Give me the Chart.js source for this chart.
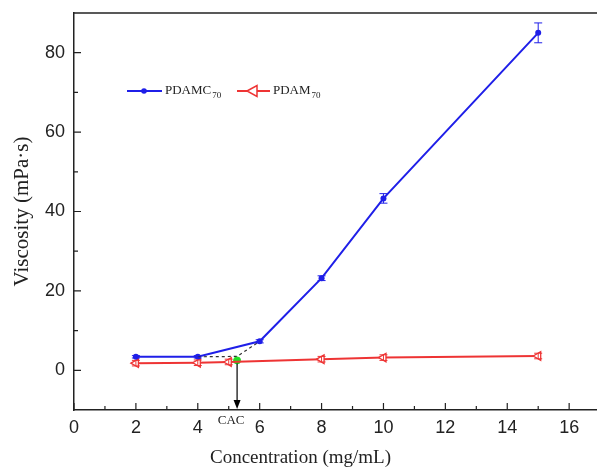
<!DOCTYPE html>
<html>
<head>
<meta charset="utf-8">
<script src="https://cdn.jsdelivr.net/npm/chart.js@4.4.1/dist/chart.umd.min.js"></script>
<style>
  body { margin: 0; background: #fff; }
  #wrap { width: 597px; height: 470px; }
</style>
</head>
<body>
<div id="wrap"><canvas id="viscChart" width="597" height="470"></canvas></div>
<script>
// concentration (mg/mL) and viscosity (mPa·s)
const pdamcX = [2, 4, 6, 8, 10, 15];
const pdamcY = [3.4, 3.4, 7.3, 23.2, 43.3, 85.0];
const pdamcErr = [0.3, 0.3, 0.4, 0.6, 1.2, 2.5];

const pdamX = [2, 4, 5, 8, 10, 15];
const pdamY = [1.8, 1.9, 2.1, 2.8, 3.2, 3.6];
const pdamErr = [0.7, 0.7, 0.7, 0.7, 0.7, 0.7];

// dashed extrapolation and the CAC point
const guideX = [4, 5.27, 6];
const guideY = [3.4, 3.5, 7.3];
const cacX = [5.27];
const cacY = [2.5];

const xTicks = [0, 2, 4, 6, 8, 10, 12, 14, 16];
const yTicks = [0, 20, 40, 60, 80];

const BLUE = '#1f1fe8';
const RED = '#ee3434';

const toPts = (xs, ys) => xs.map((x, i) => ({ x: x, y: ys[i] }));

const errorBars = {
  id: 'errorBars',
  afterDatasetsDraw(chart) {
    const ctx = chart.ctx;
    const xs = chart.scales.x, ys = chart.scales.y;
    const sets = [
      { x: pdamcX, y: pdamcY, e: pdamcErr, c: BLUE },
      { x: pdamX, y: pdamY, e: pdamErr, c: RED }
    ];
    ctx.save();
    ctx.lineWidth = 1;
    sets.forEach(s => {
      ctx.strokeStyle = s.c;
      s.x.forEach((xv, i) => {
        const px = xs.getPixelForValue(xv);
        const top = ys.getPixelForValue(s.y[i] + s.e[i]);
        const bot = ys.getPixelForValue(s.y[i] - s.e[i]);
        ctx.beginPath();
        ctx.moveTo(px, top); ctx.lineTo(px, bot);
        ctx.moveTo(px - 4, top); ctx.lineTo(px + 4, top);
        ctx.moveTo(px - 4, bot); ctx.lineTo(px + 4, bot);
        ctx.stroke();
      });
    });
    ctx.restore();
  }
};

const frame = {
  id: 'frame',
  afterDraw(chart) {
    const ctx = chart.ctx;
    const a = chart.chartArea;
    const xs = chart.scales.x, ys = chart.scales.y;
    ctx.save();
    ctx.strokeStyle = '#222';
    ctx.lineWidth = 1.5;
    ctx.beginPath();
    ctx.moveTo(a.left, a.top); ctx.lineTo(chart.width, a.top);
    ctx.stroke();

    // inward ticks
    ctx.lineWidth = 1.2;
    ctx.beginPath();
    for (let v = 0; v <= xs.max; v++) {
      const px = xs.getPixelForValue(v);
      const len = v % 2 === 0 ? 7 : 4;
      ctx.moveTo(px, a.bottom); ctx.lineTo(px, a.bottom - len);
    }
    for (let v = -10; v <= 90; v += 10) {
      const py = ys.getPixelForValue(v);
      if (py >= a.bottom - 1 || py <= a.top + 1) continue;
      const len = v % 20 === 0 ? 7 : 4;
      ctx.moveTo(a.left, py); ctx.lineTo(a.left + len, py);
    }
    ctx.stroke();

    // CAC arrow
    const cx = xs.getPixelForValue(cacX[0]);
    const cy = ys.getPixelForValue(cacY[0]);
    ctx.strokeStyle = '#000';
    ctx.fillStyle = '#000';
    ctx.lineWidth = 1.2;
    ctx.beginPath();
    ctx.moveTo(cx, cy + 3); ctx.lineTo(cx, a.bottom - 8);
    ctx.stroke();
    ctx.beginPath();
    ctx.moveTo(cx, a.bottom - 1);
    ctx.lineTo(cx - 3.5, a.bottom - 10);
    ctx.lineTo(cx + 3.5, a.bottom - 10);
    ctx.closePath();
    ctx.fill();

    ctx.font = '13px "Liberation Serif"';
    ctx.textAlign = 'center';
    ctx.textBaseline = 'middle';
    ctx.fillStyle = '#222';
    ctx.fillText('CAC', cx - 6, a.bottom + 11);

    // x axis title (sits left of the plot centre in the source)
    ctx.font = '19px "Liberation Serif"';
    ctx.fillText('Concentration (mg/mL)', (a.left + a.right) / 2 - 35, a.bottom + 48);

    // legend
    const ly = a.top + 78;
    const lx = a.left + 53;
    ctx.lineWidth = 2;
    ctx.strokeStyle = BLUE;
    ctx.beginPath(); ctx.moveTo(lx, ly); ctx.lineTo(lx + 35, ly); ctx.stroke();
    ctx.fillStyle = BLUE;
    ctx.beginPath(); ctx.arc(lx + 17, ly, 2.8, 0, Math.PI * 2); ctx.fill();
    ctx.fillStyle = '#222';
    ctx.textAlign = 'left';
    ctx.font = '13px "Liberation Serif"';
    ctx.fillText('PDAMC', lx + 38, ly);
    let w = ctx.measureText('PDAMC').width;
    ctx.font = '9px "Liberation Serif"';
    ctx.fillText('70', lx + 38 + w + 1, ly + 5);

    const rx = lx + 110;
    ctx.strokeStyle = RED;
    ctx.beginPath(); ctx.moveTo(rx, ly); ctx.lineTo(rx + 33, ly); ctx.stroke();
    ctx.fillStyle = '#fff';
    ctx.lineWidth = 1.5;
    ctx.beginPath();
    ctx.moveTo(rx + 10, ly);
    ctx.lineTo(rx + 20, ly - 5.5);
    ctx.lineTo(rx + 20, ly + 5.5);
    ctx.closePath();
    ctx.fill(); ctx.stroke();
    ctx.fillStyle = '#222';
    ctx.font = '13px "Liberation Serif"';
    ctx.fillText('PDAM', rx + 36, ly);
    w = ctx.measureText('PDAM').width;
    ctx.font = '9px "Liberation Serif"';
    ctx.fillText('70', rx + 36 + w + 1, ly + 5);
    ctx.restore();
  }
};

new Chart(document.getElementById('viscChart'), {
  type: 'scatter',
  data: {
    datasets: [
      {
        label: 'guide',
        data: toPts(guideX, guideY),
        showLine: true,
        borderColor: '#333',
        borderWidth: 1.2,
        borderDash: [3, 3],
        pointRadius: 0
      },
      {
        label: 'PDAMC70',
        data: toPts(pdamcX, pdamcY),
        showLine: true,
        borderColor: BLUE,
        backgroundColor: BLUE,
        borderWidth: 2,
        pointRadius: 3,
        pointBorderWidth: 0
      },
      {
        label: 'PDAM70',
        data: toPts(pdamX, pdamY),
        showLine: true,
        borderColor: RED,
        backgroundColor: '#fff',
        borderWidth: 2,
        pointStyle: 'triangle',
        pointRotation: -90,
        pointRadius: 5,
        pointBorderWidth: 1.3
      },
      {
        label: 'CAC',
        data: toPts(cacX, cacY),
        borderColor: '#22dd22',
        backgroundColor: '#22dd22',
        pointRadius: 3.5
      }
    ]
  },
  options: {
    responsive: false,
    animation: false,
    layout: { autoPadding: false, padding: { top: 13, right: 0, left: 0, bottom: 0 } },
    plugins: { legend: { display: false }, tooltip: { enabled: false } },
    scales: {
      x: {
        type: 'linear',
        min: 0,
        max: 16.9,
        afterBuildTicks: s => { s.ticks = xTicks.map(v => ({ value: v })); },
        afterFit: s => { s.height = 60; s.paddingLeft = 0; s.paddingRight = 0; },
        grid: { display: false, drawTicks: false },
        border: { display: true, color: '#222', width: 1.5 },
        ticks: {
          color: '#222',
          padding: 7,
          maxRotation: 0,
          font: { family: 'Liberation Sans', size: 18 }
        }
      },
      y: {
        type: 'linear',
        min: -10,
        max: 90,
        afterBuildTicks: s => { s.ticks = yTicks.map(v => ({ value: v })); },
        afterFit: s => { s.width = 74; s.paddingTop = 0; s.paddingBottom = 0; },
        grid: { display: false, drawTicks: false },
        border: { display: true, color: '#222', width: 1.5 },
        ticks: {
          color: '#222',
          padding: 9,
          font: { family: 'Liberation Sans', size: 18 }
        },
        title: {
          display: true,
          text: 'Viscosity (mPa·s)',
          color: '#222',
          padding: { top: 10, bottom: 0 },
          font: { family: 'Liberation Serif', size: 21 }
        }
      }
    }
  },
  plugins: [errorBars, frame]
});
</script>
</body>
</html>
